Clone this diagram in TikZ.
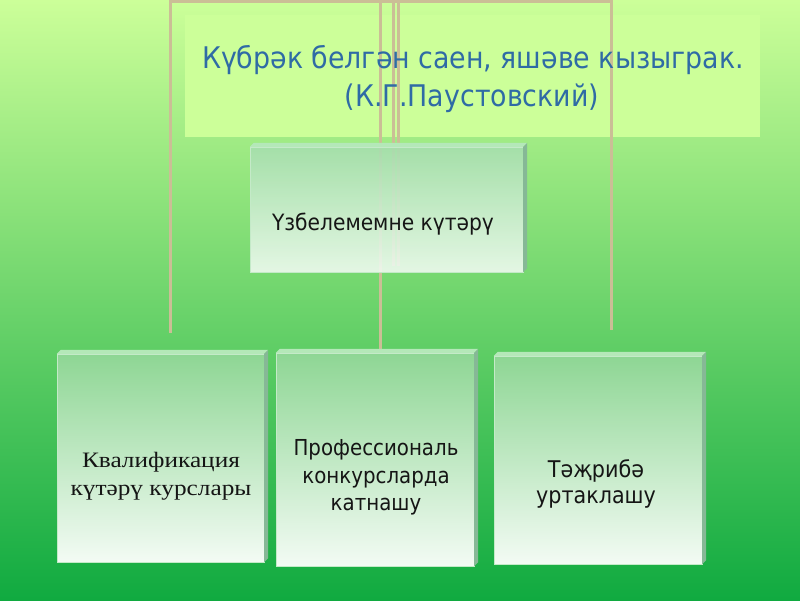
\documentclass[tikz,border=0pt]{standalone}
\usepackage{fontspec}
\newfontfamily\tfont[FakeStretch=0.9]{DejaVu Sans}
\newfontfamily\sfont[FakeStretch=1.15]{Liberation Serif}
\usetikzlibrary{calc}
\definecolor{bgtop}{HTML}{CCFF99}
\definecolor{bgbot}{HTML}{10AA40}
\definecolor{titlefill}{HTML}{CCFF99}
\definecolor{conncol}{HTML}{CBBE96}
\definecolor{titletext}{HTML}{2F6BA5}
\definecolor{boxtop}{HTML}{8ED694}
\definecolor{boxbot}{HTML}{F3FBF4}
\definecolor{toptop}{HTML}{A6DEAE}
\definecolor{sideface}{HTML}{86B896}
\definecolor{topface}{HTML}{B4E8B8}
\definecolor{edgecol}{HTML}{C4EAC8}
\definecolor{boxtext}{HTML}{151515}
\tikzset{
  conn/.style={draw=conncol, line width=3pt},
  frontface/.style={rectangle, draw=edgecol, line width=0.8pt, inner sep=0pt},
  lowbox/.style={frontface, top color=boxtop, bottom color=boxbot},
  highbox/.style={frontface, top color=toptop, bottom color=boxbot, fill opacity=0.88},
  boxlabel/.style={anchor=base, text=boxtext, inner sep=0pt, font=\tfont\fontsize{22}{27}\selectfont},
  seriflabel/.style={anchor=base, text=boxtext, inner sep=0pt, font=\sfont\fontsize{22}{28}\selectfont},
  titlelabel/.style={anchor=base, text=titletext, inner sep=0pt, font=\tfont\fontsize{29.8}{38}\selectfont}
}
\newcommand\boxbevel[1]{%
  \fill[topface] (#1.north west) -- ++(4,-4) -- ($(#1.north east)+(4,-4)$) -- (#1.north east) -- cycle;
  \fill[sideface] (#1.north east) -- ++(4,-4) -- ($(#1.south east)+(4,-4)$) -- (#1.south east) -- cycle;
}
\begin{document}
\begin{tikzpicture}[x=1pt,y=-1pt]
\useasboundingbox (0,0) rectangle (800,600);
% background
\shade[top color=bgtop, bottom color=bgbot] (0,0) rectangle (800,600);
% title box
\node[rectangle, fill=titlefill, inner sep=0pt, minimum width=575, minimum height=122] (title) at (472.5,76) {};
% boxes (nodes placed first for naming; drawn below)
\path node[rectangle, minimum width=273, minimum height=125, inner sep=0pt] (top) at (386.5,209.5) {}
      node[rectangle, minimum width=207, minimum height=208, inner sep=0pt] (b1) at (160.5,458) {}
      node[rectangle, minimum width=198, minimum height=213, inner sep=0pt] (b2) at (375,459.5) {}
      node[rectangle, minimum width=208, minimum height=208, inner sep=0pt] (b3) at (598,460) {};
% connector frame
\coordinate (fl) at (170,333);
\coordinate (ftl) at (170,1.5);
\coordinate (ftr) at (611.5,1.5);
\coordinate (fr) at (611.5,330);
\coordinate (tm) at (380.5,0);
\coordinate (ta) at (393,0);
\coordinate (tb) at (398,0);
\draw[conn] (fl) -- (ftl) -- (ftr) -- (fr);
\draw[conn] (tm) -- (tm |- b2.north);
\draw[conn] (ta) -- ($(ta |- top.south)+(0,-6)$);
\draw[conn] (tb) -- ($(tb |- top.south)+(0,-6)$);
% title text
\node[titlelabel] (titleA) at (473,68) {Күбрәк белгән саен, яшәве кызыграк.};
\node[titlelabel] (titleB) at (472,106) {(К.Г.Паустовский)};
% top box
\node[highbox, minimum width=273, minimum height=125] at (top.center) {};
\boxbevel{top}
\node[boxlabel, font=\tfont\fontsize{22.5}{27}\selectfont] (toptext) at (383,230) {Үзбелемемне күтәрү};
% bottom boxes
\node[lowbox, minimum width=207, minimum height=208] at (b1.center) {};
\boxbevel{b1}
\node[lowbox, minimum width=198, minimum height=213] at (b2.center) {};
\boxbevel{b2}
\node[lowbox, minimum width=208, minimum height=208] at (b3.center) {};
\boxbevel{b3}
% labels
\node[seriflabel] (b1a) at (161,467) {Квалификация};
\node[seriflabel] (b1b) at (161,495) {күтәрү курслары};
\node[boxlabel] (b2a) at (376,455) {Профессиональ};
\node[boxlabel] (b2b) at (376,483) {конкурсларда};
\node[boxlabel] (b2c) at (376,510) {катнашу};
\node[boxlabel, font=\tfont\fontsize{23}{27}\selectfont] (b3a) at (596,477) {Тәҗрибә};
\node[boxlabel, font=\tfont\fontsize{23}{27}\selectfont] (b3b) at (596,503) {уртаклашу};
\end{tikzpicture}
\end{document}
